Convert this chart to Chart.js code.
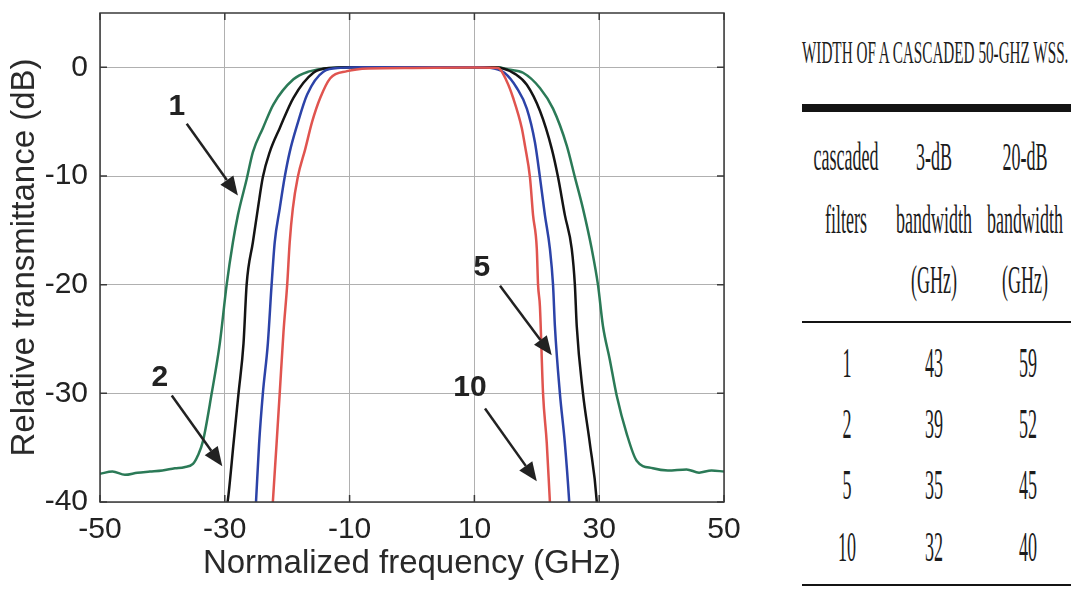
<!DOCTYPE html>
<html>
<head>
<meta charset="utf-8">
<script src="https://cdn.jsdelivr.net/npm/chart.js@4/dist/chart.umd.min.js"></script>
<style>
  html, body { margin: 0; padding: 0; background: #fff; }
  #wrap { position: relative; width: 1071px; height: 592px; overflow: hidden; background: #fff; }
  #chartBox { position: absolute; left: 0; top: 0; width: 760px; height: 592px; }
  #c { display: block; width: 760px; height: 592px; }
  .t { position: absolute; white-space: nowrap; line-height: 1; color: #1c1c1c;
       font-family: "Liberation Serif", "Times New Roman", serif; }
  .c { transform: translate(-50%, -50%) scaleX(0.45); }
  .h { font-size: 40px; }
  .d { font-size: 43px; transform: translate(-50%, -50%) scaleX(0.42); }
  .rule { position: absolute; background: #141414; }
</style>
</head>
<body>
<div id="wrap">
  <div id="chartBox"><canvas id="c" width="760" height="592"></canvas></div>
  <div id="table"></div>
</div>
<script>
// ---------------- data ----------------
const xTicks = [-50, -30, -10, 10, 30, 50];
const yTicks = [-40, -30, -20, -10, 0];

// 1 cascaded filter (green)
const freq1 = [-50, -48, -46, -44, -42, -40, -38, -36.5, -35.1, -34.3, -33.5, -32.1, -30.8, -29.7, -28.7, -27.9, -26.5, -25.5, -23.9, -22.2, -19, -16.6, -13, -10, 0, 10, 13.6, 15.5, 17.8, 20.5, 22.6, 24.8, 26.1, 27.4, 28.8, 29.8, 30.6, 31.7, 32.8, 34.4, 36, 38.6, 41, 44, 46, 48, 50];
const trans1 = [-37.4, -37.2, -37.5, -37.3, -37.2, -37.1, -36.9, -36.8, -36.5, -35.7, -34.4, -30, -25.4, -20, -16.1, -13.6, -10.3, -7.8, -5.6, -3.4, -1.1, -0.4, -0.05, 0, 0, 0, 0, -0.2, -0.5, -1.9, -3.8, -7.2, -10.1, -13, -16.7, -20, -23.8, -26.9, -30.2, -33.7, -36.2, -36.9, -37.1, -37.0, -37.3, -37.1, -37.2];

// 2 cascaded filters (black)
const freq2 = [-29.8, -29.4, -28.6, -27.8, -27, -26.5, -25.5, -24.7, -23.9, -22.8, -21.2, -19, -15.8, -13, -10, 0, 10, 12.5, 14.6, 16.5, 18.4, 20.5, 22.4, 23.4, 24.5, 25.6, 26.1, 26.4, 27.4, 28.5, 29.6, 29.7];
const trans2 = [-41, -39.3, -34.6, -30, -25.4, -20, -16.1, -13, -10.1, -7.8, -5.6, -2.8, -0.5, -0.05, 0, 0, 0, 0, -0.1, -0.6, -1.6, -4, -7.5, -10.1, -13.6, -16.7, -20, -23.8, -30, -34.6, -39.9, -41];

// 5 cascaded filters (blue)
const freq5 = [-25.1, -25, -24.5, -23.9, -23.1, -22.5, -22, -21.2, -20.4, -19.6, -18.4, -16.8, -14.2, -11.5, -8, 0, 10, 12.5, 14.8, 16.8, 18.4, 19.7, 20.5, 21.3, 22.1, 22.6, 22.9, 23.7, 24.5, 25.2, 25.3];
const trans5 = [-41, -40, -34.6, -30, -25.4, -20, -16.1, -13, -10.1, -7.8, -5.3, -2.5, -0.4, -0.05, 0, 0, 0, -0.05, -0.5, -1.9, -3.8, -6.9, -10.1, -13.6, -16.7, -20, -23.8, -30, -34.6, -40, -41];

// 10 cascaded filters (red)
const freq10 = [-22.4, -22.3, -21.7, -21.2, -20.6, -20, -19.6, -19.1, -18.3, -17.1, -16, -14.7, -13.1, -10.4, -7, 0, 10, 13.8, 15.2, 16.2, 17.6, 18.1, 18.9, 19.4, 20, 20.2, 20.5, 21, 21.6, 22.1, 22.2];
const trans10 = [-41, -40, -34.6, -30, -24.4, -20, -16.1, -13, -10.1, -7.5, -5, -2.8, -1, -0.35, -0.1, -0.05, -0.02, -0.05, -1.3, -2.8, -5.6, -7.2, -10.1, -13.6, -16.7, -20, -22, -30, -34.6, -40, -41];

// curve labels and arrows (data coordinates)
const labelText = ['1', '2', '5', '10'];
const labelX = [-37.7, -40.4, 11.2, 9.3];
const labelY = [-3.6, -28.6, -18.4, -29.5];
const arrowFromX = [-36.1, -38.5, 14.1, 11.7];
const arrowFromY = [-5.2, -30.2, -20.1, -31.4];
const arrowToX = [-27.9, -30.4, 22.4, 20.0];
const arrowToY = [-11.8, -36.7, -26.5, -38.1];

// table
const tableTitle = 'WIDTH OF A CASCADED 50-GHZ WSS.';
const headRow1 = ['cascaded', '3-dB', '20-dB'];
const headRow2 = ['filters', 'bandwidth', 'bandwidth'];
const headRow3 = ['', '(GHz)', '(GHz)'];
const cascadedFilters = ['1', '2', '5', '10'];
const bw3dB = ['43', '39', '35', '32'];
const bw20dB = ['59', '52', '45', '40'];

// ---------------- chart ----------------
const pts = (xs, ys) => xs.map((v, i) => ({ x: v, y: ys[i] }));

const frame = {
  id: 'frame',
  afterDatasetsDraw(chart) {
    const { ctx, chartArea: a, scales: { x, y } } = chart;
    ctx.save();
    ctx.strokeStyle = '#3a3a3a';
    ctx.lineWidth = 1.5;
    ctx.strokeRect(a.left, a.top, a.right - a.left, a.bottom - a.top);
    ctx.beginPath();
    xTicks.forEach(v => {
      const px = x.getPixelForValue(v);
      ctx.moveTo(px, a.bottom); ctx.lineTo(px, a.bottom - 7);
      ctx.moveTo(px, a.top); ctx.lineTo(px, a.top + 7);
    });
    yTicks.forEach(v => {
      const py = y.getPixelForValue(v);
      ctx.moveTo(a.left, py); ctx.lineTo(a.left + 7, py);
      ctx.moveTo(a.right, py); ctx.lineTo(a.right - 7, py);
    });
    ctx.stroke();

    // labels and arrows
    ctx.fillStyle = '#222';
    ctx.strokeStyle = '#222';
    ctx.font = 'bold 30px "Liberation Sans", Arial, sans-serif';
    ctx.textAlign = 'center';
    ctx.textBaseline = 'middle';
    labelText.forEach((t, i) => {
      ctx.fillText(t, x.getPixelForValue(labelX[i]), y.getPixelForValue(labelY[i]));
      const x0 = x.getPixelForValue(arrowFromX[i]), y0 = y.getPixelForValue(arrowFromY[i]);
      const x1 = x.getPixelForValue(arrowToX[i]), y1 = y.getPixelForValue(arrowToY[i]);
      const ang = Math.atan2(y1 - y0, x1 - x0);
      const hl = 19, hw = 8;
      const bx = x1 - hl * Math.cos(ang), by = y1 - hl * Math.sin(ang);
      ctx.lineWidth = 2.5;
      ctx.beginPath(); ctx.moveTo(x0, y0); ctx.lineTo(bx, by); ctx.stroke();
      ctx.beginPath();
      ctx.moveTo(x1, y1);
      ctx.lineTo(bx + hw * Math.sin(ang), by - hw * Math.cos(ang));
      ctx.lineTo(bx - hw * Math.sin(ang), by + hw * Math.cos(ang));
      ctx.closePath(); ctx.fill();
    });
    ctx.restore();
  }
};

const ds = (label, xs, ys, color, order) => ({
  label, data: pts(xs, ys), borderColor: color, backgroundColor: color,
  borderWidth: 2.5, pointRadius: 0, cubicInterpolationMode: 'monotone',
  fill: false, order, clip: 0
});

new Chart(document.getElementById('c'), {
  type: 'line',
  data: {
    datasets: [
      ds('1', freq1, trans1, '#2b7a57', 3),
      ds('2', freq2, trans2, '#141414', 2),
      ds('5', freq5, trans5, '#2c43a8', 1),
      ds('10', freq10, trans10, '#e0544f', 0)
    ]
  },
  options: {
    responsive: false,
    maintainAspectRatio: false,
    animation: false,
    devicePixelRatio: 1,
    layout: { padding: { top: 13, right: 36, bottom: 0, left: 0 } },
    plugins: { legend: { display: false }, tooltip: { enabled: false } },
    scales: {
      x: {
        type: 'linear', min: -50, max: 50,
        afterBuildTicks: s => { s.ticks = xTicks.map(v => ({ value: v })); },
        afterFit: s => { s.height = 90; s.paddingLeft = 0; s.paddingRight = 0; },
        grid: { color: '#b0b0b0', lineWidth: 1, drawTicks: false },
        border: { display: false },
        ticks: { color: '#222', padding: 10, maxRotation: 0, autoSkip: false,
                 font: { family: '"Liberation Sans", Arial, sans-serif', size: 30 } },
        title: { display: true, text: 'Normalized frequency (GHz)', color: '#2a2a2a',
                 padding: { top: 0, bottom: 8 },
                 font: { family: '"Liberation Sans", Arial, sans-serif', size: 33 } }
      },
      y: {
        type: 'linear', min: -40, max: 5,
        afterBuildTicks: s => { s.ticks = yTicks.map(v => ({ value: v })); },
        afterFit: s => { s.width = 100; s.paddingTop = 0; s.paddingBottom = 0; },
        grid: { color: '#b0b0b0', lineWidth: 1, drawTicks: false },
        border: { display: false },
        ticks: { color: '#222', padding: 12, autoSkip: false,
                 font: { family: '"Liberation Sans", Arial, sans-serif', size: 30 } },
        title: { display: true, text: 'Relative transmittance (dB)', color: '#2a2a2a',
                 padding: { top: 5, bottom: 0 },
                 font: { family: '"Liberation Sans", Arial, sans-serif', size: 33 } }
      }
    }
  },
  plugins: [frame]
});

// ---------------- table ----------------
const tb = document.getElementById('table');
const colX = [846, 934, 1025];
function addText(txt, x, y, cls) {
  if (!txt) return;
  const s = document.createElement('span');
  s.className = 't ' + cls;
  s.textContent = txt;
  s.style.left = x + 'px';
  s.style.top = y + 'px';
  tb.appendChild(s);
}
function addRule(y, h) {
  const r = document.createElement('div');
  r.className = 'rule';
  r.style.left = '802px'; r.style.width = '269px';
  r.style.top = y + 'px'; r.style.height = h + 'px';
  tb.appendChild(r);
}
const ttl = document.createElement('span');
ttl.className = 't';
ttl.textContent = tableTitle;
ttl.style.cssText = 'left:802px;top:52px;font-size:31px;transform-origin:0 50%;transform:translateY(-50%) scaleX(0.49);';
tb.appendChild(ttl);
addRule(104, 8);
[headRow1, headRow2, headRow3].forEach((row, r) => {
  const yy = [157, 220, 280][r];
  row.forEach((t, c) => addText(t, colX[c], yy, 'c h'));
});
addRule(321, 2);
const rowY = [362, 423, 484, 546];
cascadedFilters.forEach((v, i) => {
  addText(v, 847, rowY[i], 'd');
  addText(bw3dB[i], 934, rowY[i], 'd');
  addText(bw20dB[i], 1028, rowY[i], 'd');
});
addRule(584, 2);
</script>
</body>
</html>
